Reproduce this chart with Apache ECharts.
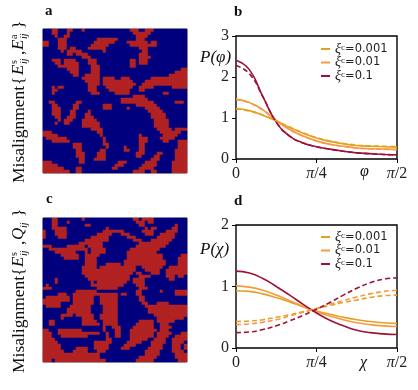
<!DOCTYPE html>
<html>
<head>
<meta charset="utf-8">
<style>
  html, body { margin: 0; padding: 0; background: #fff; }
  #chart { width: 418px; height: 390px; }
</style>
<script src="https://cdn.jsdelivr.net/npm/echarts@6/dist/echarts.min.js"></script>
</head>
<body>
<div id="chart"></div>
<script>
const gridSize = 48

// red runs per row [from, to], top row first
const fieldA = [
  [[3,4],[8,9],[13,13],[29,31],[34,36]], [[3,4],[8,8],[30,35]], [[4,4],[7,8],[31,34]],
  [[5,7],[18,24],[31,33]], [[0,1],[5,7],[17,23],[28,34],[36,37]], [[0,1],[5,7],[16,21],[29,34],[35,37]],
  [[5,7],[9,10],[15,20],[32,34]], [[6,6],[8,12],[20,20],[33,34]], [[8,9],[11,14],[32,34]],
  [[13,15],[32,35]], [[3,5],[7,10],[15,17],[29,30],[32,34]], [[4,5],[7,11],[15,17],[29,30],[32,34]],
  [[5,11],[16,18],[29,30]], [[8,11],[16,18],[46,47]], [[9,11],[16,18],[44,47]],
  [[10,11],[14,18],[42,47]], [[13,18],[20,23],[26,28],[36,47]], [[14,18],[20,29],[34,47]],
  [[15,18],[20,30],[33,47]], [[3,3],[5,6],[15,17],[21,29],[32,36],[43,47]], [[3,4],[15,17],[22,28],[32,33]],
  [[3,3],[16,18],[24,28],[40,41]], [[30,33]], [[26,34]],
  [[2,3],[11,12],[26,28],[29,36],[44,46]], [[3,4],[10,11],[20,22],[31,37]], [[3,5],[10,11],[20,22],[28,28],[34,38]],
  [[3,5],[9,10],[15,15],[35,39]], [[3,5],[9,10],[14,15],[36,40]], [[4,5],[8,10],[14,16],[36,40]],
  [[5,5],[7,9],[13,17],[37,41]], [[4,4],[7,8],[13,18],[37,41]], [[13,18],[37,41]],
  [[16,19],[38,42],[44,47]], [[0,2],[18,19],[39,45]], [[0,4],[19,19],[32,32],[40,44]],
  [[1,7],[20,20],[32,34],[39,43]], [[3,8],[20,20],[32,34],[40,41],[45,47]], [[10,12],[20,21],[32,33],[45,47]],
  [[10,12],[21,21],[27,27],[32,33],[45,47]], [[11,12],[19,20],[27,28],[32,33],[44,47]], [[11,13],[18,20],[31,33],[38,39],[44,47]],
  [[11,13],[18,20],[31,32],[37,38],[44,47]], [[12,13],[17,20],[36,38],[44,47]], [[0,2],[12,13],[25,27],[34,37],[43,47]],
  [[0,4],[24,26],[33,37],[43,47]], [[0,6],[11,12],[23,24],[32,36],[43,47]], [[0,8],[11,12],[30,33],[36,37],[43,47]]
]

const fieldC = [
  [[3,4],[13,13],[30,31],[33,36]], [[3,4],[8,8],[31,33],[35,36]], [[3,4],[14,15],[32,33],[44,44]],
  [[3,7],[21,21],[34,34],[36,37],[43,44]], [[0,0],[4,7],[20,26],[33,36],[41,44]], [[0,0],[4,7],[18,22],[26,28],[34,36],[39,43]],
  [[0,0],[5,7],[16,21],[28,30],[38,43]], [[14,21],[30,32],[36,42]], [[12,19],[32,41]],
  [[0,2],[8,13],[15,19],[31,40]], [[2,14],[16,20],[29,38]], [[4,10],[14,14],[16,20],[28,37]],
  [[6,11],[14,18],[28,39],[46,47]], [[7,11],[14,17],[28,39],[45,47]], [[14,17],[27,40],[45,47]],
  [[14,17],[21,25],[27,40],[45,47]], [[13,17],[19,30],[33,39],[42,47]], [[13,17],[18,30],[34,38],[41,47]],
  [[13,17],[18,29],[31,32],[36,38],[41,47]], [[14,17],[18,28],[32,35],[41,43],[45,46]], [[4,4],[15,17],[18,28],[30,33],[42,43]],
  [[4,4],[16,16],[18,27],[30,33]], [[1,1],[16,17],[18,26],[31,33]], [[0,2],[18,24],[32,34]],
  [[11,17],[31,32],[39,39],[44,47]], [[5,7],[10,17],[18,24],[26,27],[31,32],[44,47]], [[1,8],[10,16],[19,24],[32,33]],
  [[0,8],[10,16],[19,24],[32,33]], [[0,5],[10,16],[19,24],[33,34],[38,41]], [[1,5],[9,15],[20,24],[34,47]],
  [[8,15],[20,24],[35,47]], [[8,15],[20,24],[35,47]], [[6,9],[11,16],[19,24],[37,47]],
  [[6,6],[13,16],[19,24],[38,46]], [[2,3],[13,17],[20,24],[32,36],[38,43]], [[2,3],[13,18],[20,24],[31,36],[39,41]],
  [[20,20],[23,25],[30,36],[39,42]], [[0,1],[5,12],[20,20],[24,25],[29,37],[39,41]], [[0,2],[5,18],[21,21],[24,25],[29,36],[38,42],[46,47]],
  [[0,2],[6,14],[21,21],[24,25],[29,36],[38,41],[44,47]], [[0,3],[21,22],[29,34],[37,40],[43,47]], [[0,4],[17,22],[28,32],[36,40],[43,46]],
  [[0,5],[17,21],[27,30],[36,39],[43,45],[47,47]], [[0,5],[11,14],[17,21],[26,28],[35,39],[43,45],[47,47]], [[0,6],[10,14],[18,20],[34,38],[43,46]],
  [[0,18],[34,38],[44,47]], [[0,18],[32,37],[44,47]], [[0,2],[4,20],[31,36],[45,47]]
]

// x in units of pi/2
const angleSteps = [0, 0.083, 0.167, 0.25, 0.333, 0.417, 0.5, 0.583, 0.667, 0.75, 0.833, 0.917, 1]

const phiLowSolid = [1.23, 1.18, 1.07, 0.93, 0.77, 0.63, 0.51, 0.43, 0.37, 0.33, 0.31, 0.30, 0.29]
const phiMidSolid = [1.46, 1.38, 1.20, 0.94, 0.72, 0.56, 0.44, 0.36, 0.31, 0.27, 0.25, 0.24, 0.23]
const phiHighSolid = [2.41, 2.18, 1.52, 0.90, 0.56, 0.39, 0.30, 0.24, 0.19, 0.15, 0.13, 0.11, 0.10]
const phiLowDash = [1.22, 1.17, 1.07, 0.93, 0.78, 0.64, 0.52, 0.44, 0.38, 0.34, 0.32, 0.31, 0.30]
const phiMidDash = [1.45, 1.37, 1.19, 0.94, 0.72, 0.56, 0.44, 0.36, 0.31, 0.27, 0.25, 0.24, 0.23]
const phiHighDash = [2.28, 2.08, 1.52, 0.90, 0.56, 0.39, 0.30, 0.24, 0.19, 0.15, 0.13, 0.11, 0.10]

const chiLowSolid = [0.93, 0.92, 0.88, 0.82, 0.75, 0.67, 0.60, 0.55, 0.50, 0.46, 0.43, 0.41, 0.40]
const chiMidSolid = [1.01, 0.99, 0.94, 0.86, 0.77, 0.68, 0.59, 0.52, 0.46, 0.41, 0.38, 0.36, 0.35]
const chiHighSolid = [1.25, 1.22, 1.13, 1.00, 0.86, 0.71, 0.57, 0.45, 0.36, 0.29, 0.25, 0.23, 0.22]
const chiLowDash = [0.43, 0.44, 0.46, 0.50, 0.54, 0.59, 0.64, 0.69, 0.74, 0.78, 0.82, 0.85, 0.86]
const chiMidDash = [0.38, 0.39, 0.42, 0.46, 0.52, 0.58, 0.64, 0.71, 0.77, 0.83, 0.88, 0.92, 0.94]
const chiHighDash = [0.25, 0.26, 0.30, 0.36, 0.44, 0.53, 0.63, 0.74, 0.86, 0.97, 1.06, 1.12, 1.14]

const curveNames = ['ξc=0.001', 'ξc=0.01', 'ξc=0.1']
const curveColors = ['#e3a125', '#f79a3e', '#9e1238']
const xTicks = { 0: '0', 1: '{i|π}/4', 2: '{i|π}/2' }

const serif = '"Liberation Serif", "DejaVu Serif", serif'
const sans = '"DejaVu Sans", sans-serif'
const cellIds = Array.from({ length: gridSize }, (_, i) => i)

function cells(runs) {
  const out = []
  runs.forEach((row, r) => {
    cellIds.forEach((c) => {
      const red = row.some(([a, b]) => c >= a && c <= b)
      out.push([c, gridSize - 1 - r, red ? 1 : 0])
    })
  })
  return out
}

function lineSeries(name, values, color, gridIndex, dashed) {
  return {
    type: 'line',
    name,
    xAxisIndex: gridIndex,
    yAxisIndex: gridIndex,
    data: values.map((v, i) => [angleSteps[i] * 2, v]),
    smooth: 0.5,
    showSymbol: false,
    silent: true,
    lineStyle: { color, width: 1.6, type: dashed ? [5, 3] : 'solid' },
    itemStyle: { color },
  }
}

function lineAxes(gridIndex, yMax) {
  const tick = { show: true, length: 4, lineStyle: { color: '#000', width: 1 } }
  return {
    x: {
      type: 'value', gridIndex, min: 0, max: 2, interval: 1,
      axisLine: { show: false },
      axisTick: tick,
      splitLine: { show: false },
      axisLabel: {
        margin: 7, color: '#222', fontFamily: serif, fontSize: 16,
        formatter: (v) => xTicks[v],
        rich: { i: { fontFamily: serif, fontStyle: 'italic', fontSize: 16, color: '#222' } },
      },
    },
    y: {
      type: 'value', gridIndex, min: 0, max: yMax, interval: 1,
      axisLine: { show: false },
      axisTick: tick,
      splitLine: { show: false },
      axisLabel: { margin: 7, color: '#222', fontFamily: serif, fontSize: 16 },
    },
  }
}

const hiddenAxis = (gridIndex) => ({
  type: 'category', gridIndex, data: cellIds, show: false,
})

function legendAt(top) {
  return {
    left: 316, top, orient: 'vertical', itemWidth: 9, itemHeight: 2, itemGap: -0.5,
    data: curveNames.map((name) => ({ name, icon: 'rect' })),
    selectedMode: false,
    formatter: (name) => `{x|ξ}{c|c}{v|${name.slice(2)}}`,
    textStyle: {
      color: '#222', fontFamily: sans, fontSize: 11, lineHeight: 12,
      rich: {
        x: { fontFamily: serif, fontStyle: 'italic', fontSize: 14, color: '#222', lineHeight: 12 },
        c: { fontFamily: serif, fontSize: 9, color: '#222', verticalAlign: 'top', lineHeight: 12 },
        v: { fontFamily: sans, fontSize: 11.5, color: '#222', lineHeight: 12 },
      },
    },
  }
}

function label(text, x, y, font) {
  return { type: 'text', x, y, silent: true, style: { text, fill: '#111', font: font || `15px ${serif}` } }
}

// rotated pieces of the left titles, reading bottom to top
function sidePiece(text, y, x, font) {
  return {
    type: 'text', x, y, rotation: Math.PI / 2, silent: true,
    style: { text, fill: '#111', font, align: 'left', verticalAlign: 'middle' },
  }
}

const bigFont = `17.5px ${serif}`
const mathFont = `italic 17px ${serif}`
const smallFont = `10px ${serif}`
const smallMath = `italic 10px ${serif}`

const sideTitleA = [
  sidePiece('Misalignment', 183, 19, bigFont), sidePiece('{', 85, 19, bigFont),
  sidePiece('E', 75, 19, mathFont), sidePiece('s', 64, 14, smallFont), sidePiece('ij', 64, 24, smallMath),
  sidePiece(',', 55, 19, bigFont),
  sidePiece('E', 50, 19, mathFont), sidePiece('a', 39, 14, smallFont), sidePiece('ij', 39, 24, smallMath),
  sidePiece('}', 29, 19, bigFont),
]
const sideTitleC = [
  sidePiece('Misalignment', 373, 19, bigFont), sidePiece('{', 276, 19, bigFont),
  sidePiece('E', 267, 19, mathFont), sidePiece('s', 256, 14, smallFont), sidePiece('ij', 256, 24, smallMath),
  sidePiece(',', 245, 19, bigFont),
  sidePiece('Q', 240, 19, mathFont), sidePiece('ij', 228, 24, smallMath),
  sidePiece('}', 217, 19, bigFont),
]

const axesB = lineAxes(2, 3)
const axesD = lineAxes(3, 2)
const bold = `bold 15px ${serif}`
const mathLabel = `italic 17px ${serif}`

const option = {
  animation: false,
  backgroundColor: '#fff',
  grid: [
    { left: 43, top: 29, width: 144, height: 144, show: true, borderColor: '#666', borderWidth: 1, backgroundColor: '#00007f' },
    { left: 43, top: 218, width: 144, height: 144, show: true, borderColor: '#666', borderWidth: 1, backgroundColor: '#00007f' },
    { left: 236, top: 36, width: 161, height: 123, show: true, borderColor: '#000', borderWidth: 1.4 },
    { left: 236, top: 225, width: 161, height: 123, show: true, borderColor: '#000', borderWidth: 1.4 },
  ],
  xAxis: [hiddenAxis(0), hiddenAxis(1), axesB.x, axesD.x],
  yAxis: [hiddenAxis(0), hiddenAxis(1), axesB.y, axesD.y],
  visualMap: {
    type: 'piecewise', show: false, seriesIndex: [0, 1], dimension: 2,
    pieces: [{ value: 0, color: '#00007f' }, { value: 1, color: '#b22222' }],
  },
  legend: [legendAt(37), legendAt(225)],
  series: [
    { type: 'heatmap', xAxisIndex: 0, yAxisIndex: 0, data: cells(fieldA), silent: true, progressive: 0 },
    { type: 'heatmap', xAxisIndex: 1, yAxisIndex: 1, data: cells(fieldC), silent: true, progressive: 0 },
    lineSeries(curveNames[0], phiLowSolid, curveColors[0], 2),
    lineSeries(curveNames[1], phiMidSolid, curveColors[1], 2),
    lineSeries(curveNames[2], phiHighSolid, curveColors[2], 2),
    lineSeries(curveNames[0], phiLowDash, curveColors[0], 2, true),
    lineSeries(curveNames[1], phiMidDash, curveColors[1], 2, true),
    lineSeries(curveNames[2], phiHighDash, curveColors[2], 2, true),
    lineSeries(curveNames[0], chiLowSolid, curveColors[0], 3),
    lineSeries(curveNames[1], chiMidSolid, curveColors[1], 3),
    lineSeries(curveNames[2], chiHighSolid, curveColors[2], 3),
    lineSeries(curveNames[0], chiLowDash, curveColors[0], 3, true),
    lineSeries(curveNames[1], chiMidDash, curveColors[1], 3, true),
    lineSeries(curveNames[2], chiHighDash, curveColors[2], 3, true),
  ],
  graphic: [
    label('a', 45, 4, bold),
    label('b', 234, 5, bold),
    label('c', 46, 192, bold),
    label('d', 234, 194, bold),
    label('P(φ)', 200, 49, mathLabel),
    label('P(χ)', 200, 241, mathLabel),
    label('φ', 360, 164, `italic 16px ${serif}`),
    label('χ', 360, 355, `italic 16px ${serif}`),
    ...sideTitleA,
    ...sideTitleC,
  ],
}

const chart = echarts.init(document.getElementById('chart'), null, { renderer: 'canvas' })
chart.setOption(option)
</script>
</body>
</html>
